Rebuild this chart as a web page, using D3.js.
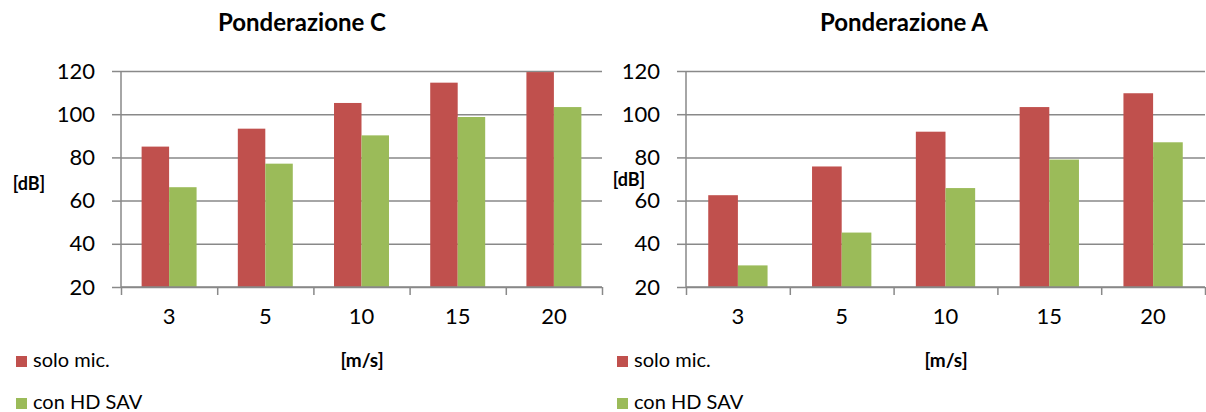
<!DOCTYPE html>
<html>
<head>
<meta charset="utf-8">
<script src="https://cdn.jsdelivr.net/npm/d3@7"></script>
<style>
  html, body { margin: 0; padding: 0; background: #fff; }
  svg { display: block; }
  text { font-family: Lato, "Open Sans", sans-serif; fill: #000; }
</style>
</head>
<body>
<svg id="chart" width="1206" height="412"></svg>
<script>
// ---- data ----
const categories = ["3", "5", "10", "15", "20"];
const seriesNames = ["solo mic.", "con HD SAV"];
const yTicks = [20, 40, 60, 80, 100, 120];
const weightingC_solo = [85, 93.3, 105.2, 114.6, 119.5];
const weightingC_hd   = [66.2, 77.1, 90.2, 98.7, 103.3];
const weightingA_solo = [62.5, 75.8, 91.9, 103.3, 109.7];
const weightingA_hd   = [30, 45.2, 65.8, 79, 87];
const titles = ["Ponderazione C", "Ponderazione A"];
const yLabel = "[dB]";
const xLabel = "[m/s]";

const colors = ["#C0504D", "#9BBB59"];
const gridColor = "#898989";

const svg = d3.select("#chart");

const panels = [
  { title: titles[0], series: [weightingC_solo, weightingC_hd], x0: 121, x1: 602, titleX: 302, yLabX: 29, yLabY: 185, xLabX: 362, legX: 16 },
  { title: titles[1], series: [weightingA_solo, weightingA_hd], x0: 686, x1: 1205, titleX: 904, yLabX: 629, yLabY: 181, xLabX: 946, legX: 617 }
];

const plotTop = 71, plotBottom = 287;

panels.forEach(p => {
  const g = svg.append("g");
  const W = p.x1 - p.x0;
  const y = d3.scaleLinear().domain([20, 120]).range([plotBottom, plotTop]);
  const xCat = d3.scaleBand().domain(categories).range([p.x0, p.x1]).paddingInner(0).paddingOuter(0);
  const xSer = d3.scaleBand().domain(d3.range(seriesNames.length)).range([0, xCat.bandwidth()]).paddingInner(0).paddingOuter(0.75);
  const xIdx = d3.scaleLinear().domain([0, categories.length]).range([p.x0, p.x1]);

  // gridlines
  const grid = g.append("g").attr("transform", `translate(${p.x0},0)`)
    .call(d3.axisLeft(y).tickValues(yTicks).tickSize(-W).tickFormat(""));
  grid.select(".domain").remove();
  grid.selectAll("line").attr("stroke", gridColor).attr("stroke-width", 1.5);

  // bars
  p.series.forEach((vals, si) => {
    g.append("g").selectAll("rect").data(vals).join("rect")
      .attr("x", (d, i) => xCat(categories[i]) + xSer(si))
      .attr("width", xSer.bandwidth())
      .attr("y", d => y(d))
      .attr("height", d => y(20) - y(d))
      .attr("fill", colors[si]);
  });

  // y axis
  const ya = g.append("g").attr("transform", `translate(${p.x0},0)`)
    .call(d3.axisLeft(y).tickValues(yTicks).tickSize(9).tickPadding(17));
  ya.select(".domain").attr("stroke", gridColor).attr("stroke-width", 1.5)
    .attr("d", `M0,${plotTop}V${plotBottom}`);
  ya.selectAll("line").attr("stroke", gridColor).attr("stroke-width", 1.5);
  ya.selectAll("text").style("font-size", "22px").style("font-family", "Lato, 'Open Sans', sans-serif").attr("fill", "#000");

  // x axis boundary ticks
  const xa = g.append("g").attr("transform", `translate(0,${plotBottom})`)
    .call(d3.axisBottom(xIdx).tickValues(d3.range(categories.length + 1)).tickSize(8).tickFormat(""));
  xa.select(".domain").attr("stroke", gridColor).attr("stroke-width", 1.5).attr("d", `M${p.x0},0H${p.x1}`);
  xa.selectAll("line").attr("stroke", gridColor).attr("stroke-width", 1.5);

  // x category labels
  const xl = g.append("g").attr("transform", `translate(0,${plotBottom})`)
    .call(d3.axisBottom(xCat).tickSize(0).tickPadding(21));
  xl.select(".domain").remove();
  xl.selectAll("text").style("font-size", "22px").style("font-family", "Lato, 'Open Sans', sans-serif").attr("fill", "#000");

  // title
  g.append("text").attr("x", p.titleX).attr("y", 31).attr("text-anchor", "middle")
    .style("font-size", "24px").style("font-weight", "bold").text(p.title);

  // axis titles
  g.append("text").attr("x", p.yLabX).attr("y", p.yLabY).attr("text-anchor", "middle").attr("dominant-baseline", "middle")
    .style("font-size", "18px").style("font-weight", "bold").text(yLabel);
  g.append("text").attr("x", p.xLabX).attr("y", 367).attr("text-anchor", "middle")
    .style("font-size", "19px").style("font-weight", "bold").text(xLabel);

  // legend
  const leg = g.append("g");
  const legY = [356, 398];
  seriesNames.forEach((name, si) => {
    leg.append("rect").attr("x", p.legX).attr("y", legY[si]).attr("width", 11).attr("height", 11).attr("fill", colors[si]);
    leg.append("text").attr("x", p.legX + 17).attr("y", legY[si] + 11)
      .style("font-size", "20px").text(name);
  });
});
</script>
</body>
</html>
